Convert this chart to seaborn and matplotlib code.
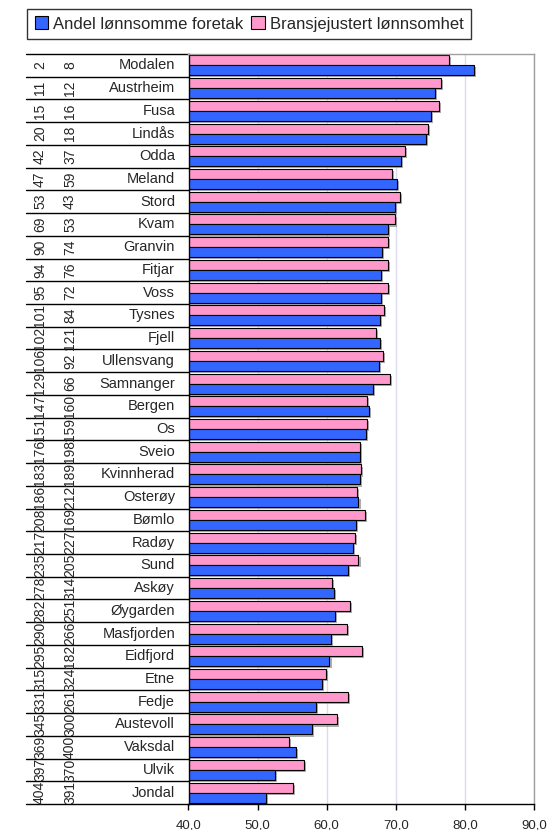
import numpy as np
import pandas as pd
import matplotlib
matplotlib.use("Agg")
import matplotlib.pyplot as plt
import matplotlib.patheffects as pe
from matplotlib.patches import Patch
import seaborn as sns

kommuner = ["Modalen", "Austrheim", "Fusa", "Lindås", "Odda", "Meland", "Stord", "Kvam",
            "Granvin", "Fitjar", "Voss", "Tysnes", "Fjell", "Ullensvang", "Samnanger",
            "Bergen", "Os", "Sveio", "Kvinnherad", "Osterøy", "Bømlo", "Radøy", "Sund",
            "Askøy", "Øygarden", "Masfjorden", "Eidfjord", "Etne", "Fedje", "Austevoll",
            "Vaksdal", "Ulvik", "Jondal"]
andel = [81.3, 75.7, 75.1, 74.4, 70.75, 70.2, 69.85, 68.8,
         68.0, 67.85, 67.85, 67.65, 67.65, 67.5, 66.75,
         66.1, 65.65, 64.8, 64.8, 64.6, 64.25, 63.85, 63.1,
         61.1, 61.15, 60.6, 60.4, 59.3, 58.4, 57.9,
         55.5, 52.55, 51.25]
bransje = [77.65, 76.6, 76.2, 74.6, 71.3, 69.45, 70.55, 69.9,
           68.8, 68.8, 68.8, 68.35, 67.1, 68.2, 69.1,
           65.8, 65.85, 64.8, 64.9, 64.4, 65.5, 64.05, 64.6,
           60.75, 63.4, 62.95, 65.15, 59.85, 63.1, 61.5,
           54.6, 56.75, 55.1]
rank_andel = [2, 11, 15, 20, 42, 47, 53, 69, 90, 94, 95, 101, 102, 106, 129, 147, 151,
              176, 183, 186, 208, 217, 235, 278, 282, 290, 295, 315, 331, 345, 369, 397, 404]
rank_bransje = [8, 12, 16, 18, 37, 59, 43, 53, 74, 76, 72, 84, 121, 92, 66, 160, 159,
                198, 189, 212, 169, 227, 205, 314, 251, 266, 182, 324, 261, 300, 400, 370, 391]
x_ticks = [40, 50, 60, 70, 80, 90]

S1 = "Andel lønnsomme foretak"
S2 = "Bransjejustert lønnsomhet"
C1 = "#3366FF"
C2 = "#FF99CC"

sns.set_theme(style="white")
plt.rcParams['font.family'] = ['Liberation Sans', 'DejaVu Sans']

W, H = 547, 830
fig = plt.figure(figsize=(W / 100, H / 100), dpi=100)
L, R, T, B = 188.5, 534, 54, 804
ax = fig.add_axes([L / W, 1 - B / H, (R - L) / W, (B - T) / H])

n = len(kommuner)
df = pd.DataFrame({
    "Kommune": kommuner + kommuner,
    "Serie": [S2] * n + [S1] * n,
    "Verdi": bransje + andel,
})
sns.barplot(data=df, y="Kommune", x="Verdi", hue="Serie", hue_order=[S2, S1],
            order=kommuner, palette={S1: C1, S2: C2}, width=0.88,
            edgecolor="black", linewidth=0.8, saturation=1, ax=ax, legend=False)

for p in ax.patches:
    p.set_path_effects([pe.SimplePatchShadow(offset=(1.5, -1.5), shadow_rgbFace="#777777", alpha=0.6),
                        pe.Normal()])

ax.set_xlim(40, 90)
ax.set_ylim(n - 0.5, -0.5)
ax.set_xticks(x_ticks)
ax.set_xticklabels([f"{v:.1f}".replace(".", ",") for v in x_ticks])
ax.set_yticks([])
ax.set_xlabel("")
ax.set_ylabel("")
ax.grid(axis="x", color="#DADAF2", lw=1)
ax.set_axisbelow(True)
ax.tick_params(axis="x", direction="out", length=4, width=1, color="black",
               labelsize=9.5, pad=7, bottom=True)
for s in ["left", "bottom"]:
    ax.spines[s].set_color("black")
    ax.spines[s].set_linewidth(1)
for s in ["top", "right"]:
    ax.spines[s].set_color("#A0A0A0")
    ax.spines[s].set_linewidth(1)

trans = ax.get_yaxis_transform()
def xa(px):
    return (px - L) / (R - L)

for i in range(n + 1):
    ax.plot([xa(26), 0], [i - 0.5, i - 0.5], color="black", lw=1,
            transform=trans, clip_on=False)
for i in range(n):
    ax.text(xa(175), i, kommuner[i], ha="right", va="center", fontsize=10.5,
            transform=trans, clip_on=False)
    ax.text(xa(40), i, str(rank_andel[i]), ha="center", va="center", fontsize=10,
            rotation=90, transform=trans, clip_on=False)
    ax.text(xa(70), i, str(rank_bransje[i]), ha="center", va="center", fontsize=10,
            rotation=90, transform=trans, clip_on=False)

handles = [Patch(facecolor=C1, edgecolor="black", lw=0.8),
           Patch(facecolor=C2, edgecolor="black", lw=0.8)]
leg = fig.legend(handles, [S1, S2], ncol=2, loc="upper left",
                 bbox_to_anchor=(27 / W, 1 - 9 / H), frameon=True, fancybox=False,
                 edgecolor="black", fontsize=12, handlelength=0.8, handleheight=0.8,
                 columnspacing=0.5, handletextpad=0.3, borderpad=0.45,
                 borderaxespad=0)
leg.get_frame().set_linewidth(1)

fig.savefig("out.png", dpi=100, facecolor="white")
